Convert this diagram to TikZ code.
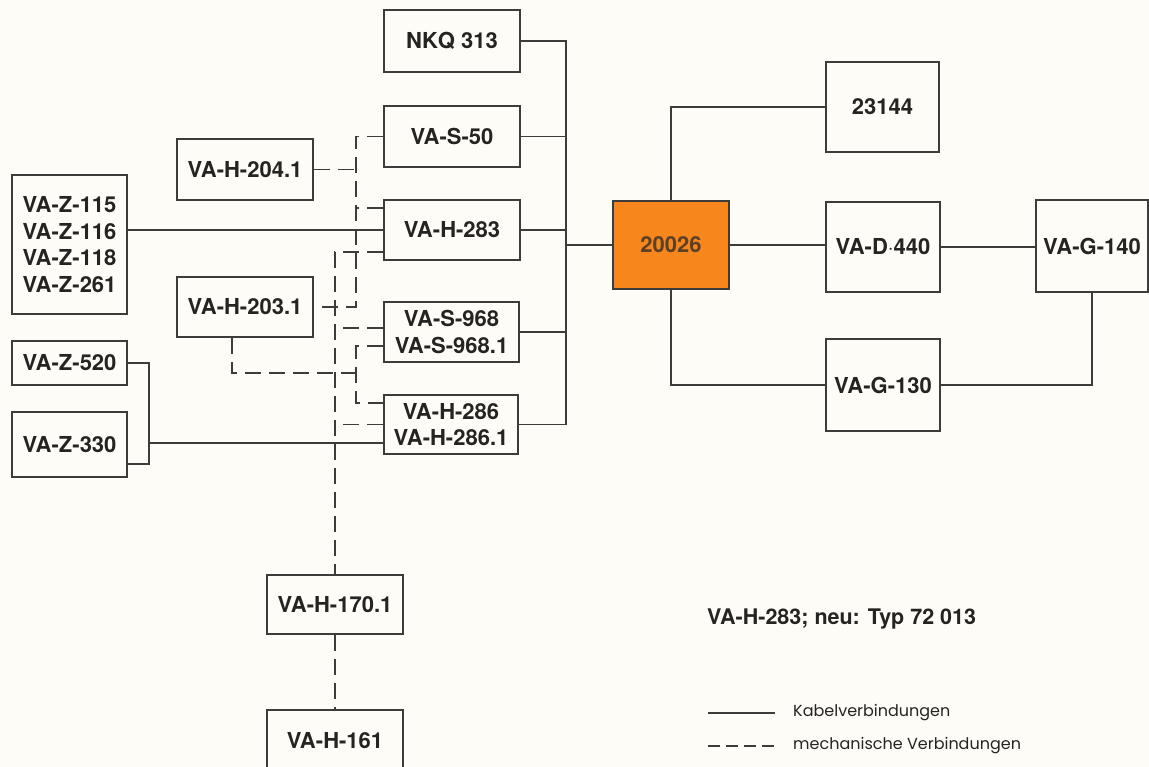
\documentclass[tikz,border=0pt]{standalone}
\usepackage{fontspec}
\newfontfamily\heros{TeX Gyre Heros}
\newfontfamily\legfont{Poppins}
\definecolor{linec}{RGB}{62,60,58}
\definecolor{boxorange}{RGB}{247,134,28}
\definecolor{darktext}{RGB}{38,36,34}
\definecolor{orangetext}{RGB}{92,64,40}
\definecolor{paper}{RGB}{253,252,247}
\usetikzlibrary{positioning}

\begin{document}
\begin{tikzpicture}[x=1pt,y=1pt,yscale=-1,
	box/.style={draw=linec,line width=2pt,fill=paper,align=center,inner sep=0pt,text=darktext,font=\heros\bfseries\fontsize{22}{26.5}\selectfont},
	kabel/.style={draw=linec,line width=1.3pt},
	mech/.style={draw=linec,line width=1.3pt,dash pattern=on 16pt off 8pt},
	legtext/.style={anchor=west,inner sep=0pt,text=darktext,font=\legfont\fontsize{16}{19}\selectfont}]
	%set diagram to 1149 x 767
	\fill[paper] (0,0) rectangle (1149,767);
	\useasboundingbox (0,0) rectangle (1149,767);

	% Boxes, middle column
	\node[box,minimum width=136pt,minimum height=62pt] (nkq) at (452,41) {NKQ 313};
	\node[box,minimum width=136pt,minimum height=61pt] (vas50) at (452,136.5) {VA-S-50};
	\node[box,minimum width=136pt,minimum height=60pt] (vah283) at (452,230) {VA-H-283};
	\node[box,minimum width=135pt,minimum height=60pt] (vas968) at (451.5,332) {VA-S-968\\VA-S-968.1};
	\node[box,minimum width=134pt,minimum height=59pt] (vah286) at (451,424.5) {VA-H-286\\VA-H-286.1};
	% Boxes, left
	\node[box,minimum width=136pt,minimum height=61pt] (vah204) at (245,169.5) {VA-H-204.1};
	\node[box,minimum width=136pt,minimum height=60pt] (vah203) at (245,307) {VA-H-203.1};
	\node[box,minimum width=115pt,minimum height=139pt] (vaz) at (69.5,244.5) {VA-Z-115\\VA-Z-116\\VA-Z-118\\VA-Z-261};
	\node[box,minimum width=115pt,minimum height=44pt] (vaz520) at (69.5,363) {VA-Z-520};
	\node[box,minimum width=115pt,minimum height=65pt] (vaz330) at (69.5,444.5) {VA-Z-330};
	% Boxes, bottom
	\node[box,minimum width=136pt,minimum height=59pt] (vah170) at (335,604.5) {VA-H-170.1};
	\node[box,minimum width=136pt,minimum height=62pt] (vah161) at (335,741) {VA-H-161};
	% Boxes, right
	\node[box,fill=boxorange,text=orangetext,minimum width=116pt,minimum height=88pt] (n20026) at (671,245) {20026};
	\node[box,minimum width=113pt,minimum height=90pt] (n23144) at (882.5,107) {23144};
	\node[box,minimum width=114pt,minimum height=90pt] (vad440) at (883,247) {VA-D$\cdot$440};
	\node[box,minimum width=112pt,minimum height=92pt] (vag140) at (1092,246) {VA-G-140};
	\node[box,minimum width=114pt,minimum height=92pt] (vag130) at (883,385) {VA-G-130};

	% bus lines
	\coordinate (busR) at (566,0);
	\coordinate (busA) at (356,373);
	\coordinate (brk) at (149,0);
	\coordinate (h283a) at ([yshift=-22pt]vah283.west);
	\coordinate (h283b) at ([yshift=22pt]vah283.west);
	\coordinate (s968a) at ([yshift=-4pt]vas968.west);
	\coordinate (s968b) at ([yshift=14pt]vas968.west);
	\coordinate (h286a) at ([yshift=-21.5pt]vah286.west);
	\coordinate (h286c) at ([yshift=18.5pt]vah286.west);
	\coordinate (z330b) at ([yshift=19.5pt]vaz330.east);
	\coordinate (h203s) at ([xshift=-13pt]vah203.south);

	% Kabelverbindungen
	\draw[kabel] (nkq.east) -| (busR |- vah286) -- (vah286.east);
	\draw[kabel] (vas50.east) -- (vas50.east -| busR);
	\draw[kabel] (vah283.east) -- (vah283.east -| busR);
	\draw[kabel] (vas968.east) -- (vas968.east -| busR);
	\draw[kabel] (busR |- n20026) -- (n20026.west);
	\draw[kabel] (n20026.north) |- (n23144.west);
	\draw[kabel] (n20026.east) -- (n20026.east -| vad440.west);
	\draw[kabel] (n20026.south) |- (vag130.west);
	\draw[kabel] (vad440.east) -- (vad440.east -| vag140.west);
	\draw[kabel] (vag130.east) -| (vag140.south);
	\draw[kabel] (vaz.east |- vah283) -- (vah283.west);
	\draw[kabel] (vaz520.east) -| (z330b -| brk) -- (z330b);
	\draw[kabel] (brk |- h286c) -- (h286c);

	% mechanische Verbindungen
	\draw[mech] (vas50.west) -| (busA |- vah203.east) -- (vah203.east);
	\draw[mech] (vah204.east) -- (vah204.east -| busA);
	\draw[mech] (h283a) -- (h283a -| busA);
	\draw[mech] (h283b) -| (vah170.north);
	\draw[mech] (s968a) -- (s968a -| vah170.north);
	\draw[mech] (s968b) -| (busA |- h286a) -- (h286a);
	\draw[mech] (h203s) |- (busA);
	\draw[mech] (vah286.west) -- (vah286.west -| vah170.north);
	\draw[mech] (vah170.south) -- (vah161.north);

	% Text Node
	\node[anchor=west,inner sep=0pt,text=darktext,font=\heros\bfseries\fontsize{21.5}{25}\selectfont] (neu) at (707,619) {VA-H-283; neu: Typ 72 013};
	% Legend
	\node[legtext] (kabeltext) at (793,713) {Kabelverbindungen};
	\node[legtext] (mechtext) at (793,746) {mechanische Verbindungen};
	\coordinate (lk) at (708,713);
	\coordinate (lm) at (708,746);
	\draw[kabel,line width=2pt] (lk) -- ++(67,0);
	\draw[mech,line width=1.6pt,dash pattern=on 12pt off 6pt] (lm) -- ++(67,0);
\end{tikzpicture}
\end{document}
